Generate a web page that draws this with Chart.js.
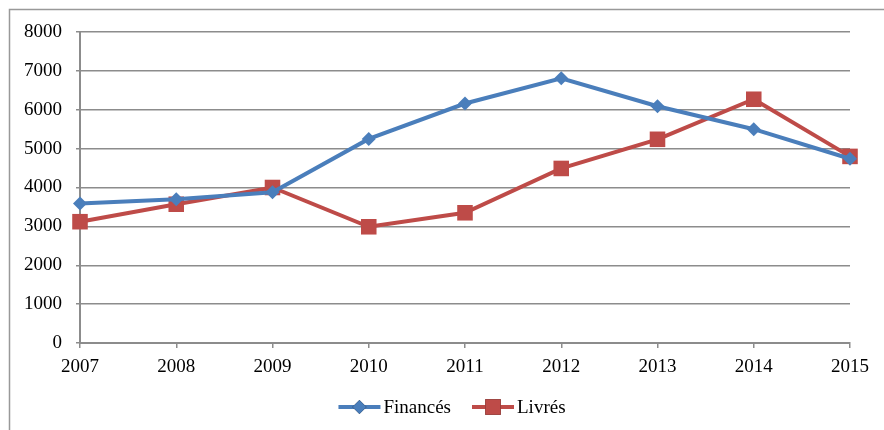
<!DOCTYPE html>
<html>
<head>
<meta charset="utf-8">
<script src="https://cdn.jsdelivr.net/npm/chart.js@4/dist/chart.umd.min.js"></script>
<style>
  html, body { margin: 0; padding: 0; background: #fff; }
  #wrap { width: 884px; height: 430px; position: relative; }
</style>
</head>
<body>
<div id="wrap"><canvas id="canvas" width="884" height="430"></canvas></div>
<script>
const years = ['2007', '2008', '2009', '2010', '2011', '2012', '2013', '2014', '2015'];
const finances = [3590, 3700, 3880, 5250, 6160, 6810, 6090, 5500, 4740];
const livres = [3120, 3570, 4000, 2990, 3350, 4490, 5240, 6270, 4800];
const yTicks = [0, 1000, 2000, 3000, 4000, 5000, 6000, 7000, 8000];

const blue = '#4A7EBB';
const red = '#BE4B48';
const gridCol = '#8c8c8c';
const fontFam = '"Liberation Serif", "Times New Roman", serif';
const fontSize = 19;

// frame round the chart (only top and left visible in the picture)
const framePlugin = {
  id: 'frame',
  beforeDraw(chart) {
    const ctx = chart.ctx;
    ctx.save();
    ctx.strokeStyle = '#999';
    ctx.lineWidth = 1.5;
    ctx.strokeRect(9.5, 9.5, 900, 450);
    ctx.restore();
  }
};

// legend: line + marker, then label
const legendPlugin = {
  id: 'lineLegend',
  afterDraw(chart) {
    const ctx = chart.ctx;
    ctx.save();
    ctx.font = fontSize + 'px ' + fontFam;
    ctx.textBaseline = 'middle';
    const y = 407;
    const seg = 42, gap = 3, between = 21;
    const items = chart.data.datasets;
    let total = 0;
    items.forEach((d, i) => {
      total += seg + gap + ctx.measureText(d.label).width;
      if (i < items.length - 1) total += between;
    });
    let x = 452 - total / 2;
    items.forEach(d => {
      ctx.strokeStyle = d.borderColor;
      ctx.lineWidth = 4;
      ctx.beginPath();
      ctx.moveTo(x, y);
      ctx.lineTo(x + seg, y);
      ctx.stroke();
      Chart.helpers.drawPoint(ctx, {
        pointStyle: d.pointStyle,
        radius: d.pointRadius,
        borderWidth: 0
      }, x + seg / 2, y);
      ctx.fillStyle = d.borderColor;
      ctx.fill();
      ctx.fillStyle = '#000';
      ctx.fillText(d.label, x + seg + gap, y + 1);
      x += seg + gap + ctx.measureText(d.label).width + between;
    });
    ctx.restore();
  }
};

const ctx = document.getElementById('canvas').getContext('2d');
const myChart = new Chart(ctx, {
  type: 'line',
  data: {
    labels: years,
    datasets: [
      {
        label: 'Financés',
        data: finances,
        borderColor: blue,
        backgroundColor: blue,
        borderWidth: 4,
        pointStyle: 'rectRot',
        pointRadius: 7,
        pointBorderWidth: 0,
        tension: 0
      },
      {
        label: 'Livrés',
        data: livres,
        borderColor: red,
        backgroundColor: red,
        borderWidth: 4,
        pointStyle: 'rect',
        pointRadius: 11,
        pointBorderWidth: 0,
        tension: 0
      }
    ]
  },
  options: {
    responsive: false,
    animation: false,
    layout: {
      padding: { top: 32, right: 34, left: 0, bottom: 57 }
    },
    plugins: {
      legend: { display: false },
      tooltip: { enabled: false }
    },
    scales: {
      x: {
        offset: false,
        grid: { drawOnChartArea: false, drawTicks: true, tickLength: 5, color: gridCol, lineWidth: 1.5 },
        border: { color: gridCol, width: 2 },
        ticks: { color: '#000', font: { family: fontFam, size: fontSize }, padding: 8, maxRotation: 0 },
        afterFit(scale) { scale.height = 30; }
      },
      y: {
        min: 0,
        max: 8000,
        afterBuildTicks(scale) { scale.ticks = yTicks.map(v => ({ value: v })); },
        grid: { color: gridCol, lineWidth: 1.5, tickLength: 4 },
        border: { color: gridCol, width: 2 },
        ticks: {
          color: '#000',
          font: { family: fontFam, size: fontSize },
          padding: 14,
          callback: v => String(v)
        },
        afterFit(scale) { scale.width = 80; }
      }
    }
  },
  plugins: [framePlugin, legendPlugin]
});
</script>
</body>
</html>
